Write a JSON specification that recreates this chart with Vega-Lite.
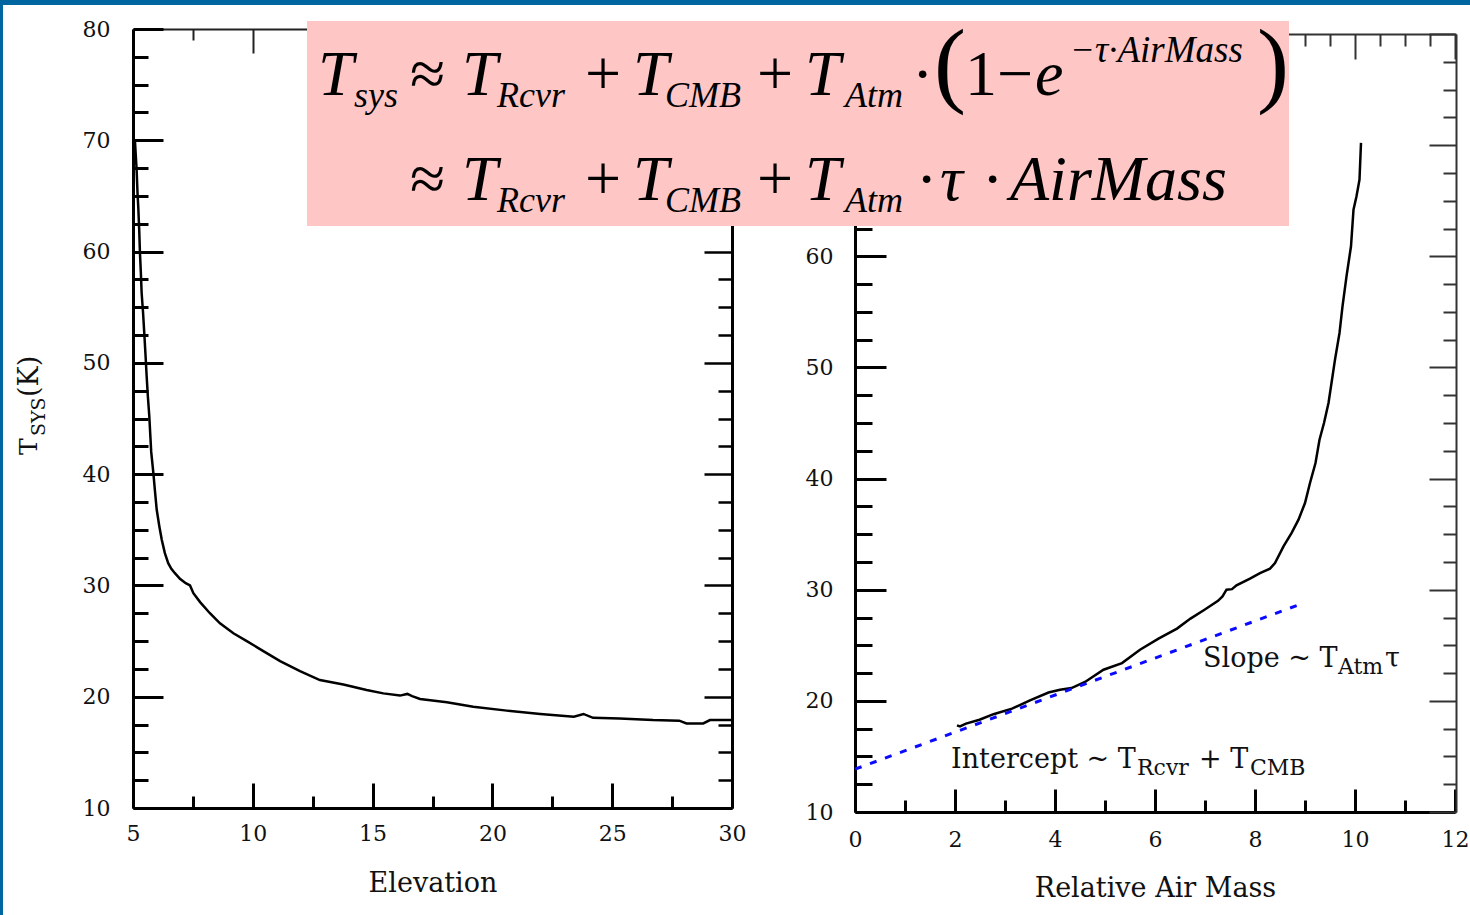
{
  "$schema": "https://vega.github.io/schema/vega-lite/v6.json",
  "width": 1470,
  "height": 915,
  "autosize": {"type": "none"},
  "padding": 0,
  "background": "white",
  "config": {
    "view": {"stroke": null},
    "axis": {"grid": false, "labelFont": "DejaVu Serif", "labelFontSize": 22, "labelColor": "#111", "titleFont": "DejaVu Serif", "titleFontSize": 27, "titleFontWeight": "normal", "titleColor": "#111", "domainColor": "#000", "tickColor": "#000", "labelFlush": false, "labelOverlap": false},
    "text": {"font": "Liberation Serif", "align": "left", "baseline": "alphabetic", "color": "#000"},
    "line": {"color": "#000", "strokeWidth": 2.5}
  },
  "datasets": {
    "elev": [{"elevation":5.08,"tsys":70.0},{"elevation":5.12,"tsys":68.5},{"elevation":5.15,"tsys":67.4},{"elevation":5.19,"tsys":65.2},{"elevation":5.22,"tsys":64.0},{"elevation":5.26,"tsys":61.9},{"elevation":5.29,"tsys":59.9},{"elevation":5.33,"tsys":58.0},{"elevation":5.36,"tsys":56.3},{"elevation":5.42,"tsys":54.5},{"elevation":5.47,"tsys":52.7},{"elevation":5.52,"tsys":50.8},{"elevation":5.57,"tsys":48.8},{"elevation":5.62,"tsys":47.0},{"elevation":5.68,"tsys":45.2},{"elevation":5.72,"tsys":43.6},{"elevation":5.76,"tsys":42.0},{"elevation":5.85,"tsys":40.1},{"elevation":5.92,"tsys":38.4},{"elevation":5.99,"tsys":36.8},{"elevation":6.1,"tsys":35.3},{"elevation":6.2,"tsys":34.1},{"elevation":6.33,"tsys":32.9},{"elevation":6.47,"tsys":32.0},{"elevation":6.6,"tsys":31.5},{"elevation":6.75,"tsys":31.1},{"elevation":6.96,"tsys":30.6},{"elevation":7.2,"tsys":30.2},{"elevation":7.38,"tsys":30.0},{"elevation":7.52,"tsys":29.3},{"elevation":7.8,"tsys":28.5},{"elevation":8.21,"tsys":27.5},{"elevation":8.63,"tsys":26.6},{"elevation":9.19,"tsys":25.7},{"elevation":9.75,"tsys":25.0},{"elevation":10.44,"tsys":24.1},{"elevation":11.14,"tsys":23.2},{"elevation":11.97,"tsys":22.3},{"elevation":12.8,"tsys":21.5},{"elevation":13.78,"tsys":21.1},{"elevation":14.75,"tsys":20.6},{"elevation":15.45,"tsys":20.3},{"elevation":16.14,"tsys":20.1},{"elevation":16.45,"tsys":20.25},{"elevation":16.65,"tsys":20.05},{"elevation":16.98,"tsys":19.8},{"elevation":18.1,"tsys":19.5},{"elevation":19.2,"tsys":19.1},{"elevation":20.6,"tsys":18.75},{"elevation":22.0,"tsys":18.45},{"elevation":23.4,"tsys":18.2},{"elevation":23.8,"tsys":18.45},{"elevation":24.2,"tsys":18.1},{"elevation":25.3,"tsys":18.05},{"elevation":26.7,"tsys":17.9},{"elevation":27.8,"tsys":17.85},{"elevation":28.1,"tsys":17.6},{"elevation":28.8,"tsys":17.6},{"elevation":29.08,"tsys":17.9},{"elevation":30.0,"tsys":17.9}],
    "airmass": [{"airmass":2.04,"tsys":17.8},{"airmass":2.1,"tsys":17.7},{"airmass":2.22,"tsys":17.95},{"airmass":2.49,"tsys":18.3},{"airmass":2.77,"tsys":18.8},{"airmass":3.14,"tsys":19.3},{"airmass":3.5,"tsys":20.05},{"airmass":3.87,"tsys":20.75},{"airmass":4.1,"tsys":21.0},{"airmass":4.33,"tsys":21.15},{"airmass":4.6,"tsys":21.7},{"airmass":4.97,"tsys":22.8},{"airmass":5.34,"tsys":23.4},{"airmass":5.7,"tsys":24.6},{"airmass":6.07,"tsys":25.6},{"airmass":6.44,"tsys":26.5},{"airmass":6.71,"tsys":27.4},{"airmass":6.99,"tsys":28.2},{"airmass":7.26,"tsys":29.0},{"airmass":7.35,"tsys":29.4},{"airmass":7.43,"tsys":30.0},{"airmass":7.54,"tsys":30.05},{"airmass":7.63,"tsys":30.4},{"airmass":7.9,"tsys":31.0},{"airmass":8.1,"tsys":31.5},{"airmass":8.3,"tsys":31.9},{"airmass":8.4,"tsys":32.4},{"airmass":8.57,"tsys":33.9},{"airmass":8.73,"tsys":35.1},{"airmass":8.87,"tsys":36.3},{"airmass":9.0,"tsys":37.8},{"airmass":9.1,"tsys":39.6},{"airmass":9.21,"tsys":41.4},{"airmass":9.29,"tsys":43.5},{"airmass":9.38,"tsys":45.0},{"airmass":9.47,"tsys":46.8},{"airmass":9.53,"tsys":48.6},{"airmass":9.6,"tsys":50.7},{"airmass":9.69,"tsys":53.1},{"airmass":9.75,"tsys":55.5},{"airmass":9.83,"tsys":58.2},{"airmass":9.92,"tsys":60.9},{"airmass":9.97,"tsys":64.2},{"airmass":10.03,"tsys":65.4},{"airmass":10.09,"tsys":66.9},{"airmass":10.12,"tsys":70.2}],
    "fit": [{"airmass":0,"tfit":13.85},{"airmass":8.85,"tfit":28.6}]
  },
  "resolve": {"scale": {"x": "independent", "y": "independent"}, "axis": {"x": "independent", "y": "independent"}},
  "layer": [
    {
      "resolve": {"axis": {"x": "independent", "y": "independent"}},
      "layer": [
        {
          "data": {"name": "elev"},
          "mark": {"type": "line"},
          "encoding": {
            "x": {"field": "elevation", "type": "quantitative", "scale": {"domain": [5, 30], "range": [133, 732], "nice": false, "zero": false},
              "axis": {"orient": "bottom", "offset": -107, "values": [5,7.5,10,12.5,15,17.5,20,22.5,25,27.5,30], "tickSize": {"condition": {"test": "datum.value % 5 === 0", "value": -25}, "value": -12}, "labelExpr": "datum.value % 5 === 0 ? datum.label : ''", "labelPadding": 40, "title": "Elevation", "titlePadding": 13, "domainWidth": 3, "tickWidth": 3}},
            "y": {"field": "tsys", "type": "quantitative", "scale": {"domain": [10, 80], "range": [808, 29], "nice": false, "zero": false},
              "axis": {"orient": "left", "offset": -133, "values": [10,12.5,15,17.5,20,22.5,25,27.5,30,32.5,35,37.5,40,42.5,45,47.5,50,52.5,55,57.5,60,62.5,65,67.5,70,72.5,75,77.5,80], "tickSize": {"condition": {"test": "datum.value % 10 === 0", "value": -30}, "value": -15}, "labelExpr": "datum.value % 10 === 0 ? datum.label : ''", "labelPadding": 53, "title": null, "domainWidth": 3, "tickWidth": 3}}
          }
        },
        {
          "data": {"name": "elev"},
          "mark": {"type": "line", "strokeOpacity": 0},
          "encoding": {
            "x": {"field": "elevation", "type": "quantitative",
              "axis": {"orient": "top", "offset": -29, "values": [5,7.5,10,12.5,15,17.5,20,22.5,25,27.5,30], "tickSize": {"condition": {"test": "datum.value % 5 === 0", "value": -24}, "value": -11}, "labels": false, "title": null, "domainWidth": 2, "tickWidth": 2, "domainColor": "#222", "tickColor": "#222"}},
            "y": {"field": "tsys", "type": "quantitative",
              "axis": {"orient": "right", "offset": -738, "values": [10,12.5,15,17.5,20,22.5,25,27.5,30,32.5,35,37.5,40,42.5,45,47.5,50,52.5,55,57.5,60,62.5,65,67.5,70,72.5,75,77.5,80], "tickSize": {"condition": {"test": "datum.value % 10 === 0", "value": -28}, "value": -14}, "labels": false, "title": null, "domainWidth": 3, "tickWidth": 2.5}}
          }
        },
        {"data": {"values": [{}]}, "mark": {"type": "text", "text": "T", "fontSize": 25, "angle": 270, "font": "DejaVu Serif", "color": "#111"}, "encoding": {"x": {"datum": 0.993, "type": "quantitative", "axis": null}, "y": {"datum": 41.72, "type": "quantitative", "axis": null}}},
        {"data": {"values": [{}]}, "mark": {"type": "text", "text": "SYS", "fontSize": 19, "angle": 270, "font": "DejaVu Serif", "color": "#111"}, "encoding": {"x": {"datum": 1.327, "type": "quantitative", "axis": null}, "y": {"datum": 43.43, "type": "quantitative", "axis": null}}},
        {"data": {"values": [{}]}, "mark": {"type": "text", "text": "(K)", "fontSize": 27, "angle": 270, "font": "DejaVu Serif", "color": "#111"}, "encoding": {"x": {"datum": 1.035, "type": "quantitative", "axis": null}, "y": {"datum": 46.93, "type": "quantitative", "axis": null}}},
        {"data": {"values": [{}]}, "mark": {"type": "rect", "color": "#0066a0"}, "encoding": {"x": {"datum": -0.634, "type": "quantitative", "axis": null}, "x2": {"datum": -0.426}, "y": {"datum": 82.79, "type": "quantitative", "axis": null}, "y2": {"datum": -1}}}
      ]
    },
    {
      "resolve": {"axis": {"x": "independent", "y": "independent"}},
      "layer": [
        {
          "data": {"name": "airmass"},
          "mark": {"type": "line"},
          "encoding": {
            "x": {"field": "airmass", "type": "quantitative", "scale": {"domain": [0, 12], "range": [855, 1455], "nice": false, "zero": false},
              "axis": {"orient": "bottom", "offset": -103, "format": "d", "values": [0,0.5,1,1.5,2,2.5,3,3.5,4,4.5,5,5.5,6,6.5,7,7.5,8,8.5,9,9.5,10,10.5,11,11.5,12], "tickSize": {"condition": {"test": "datum.value % 2 === 0", "value": -23}, "value": -12}, "labelExpr": "datum.value % 2 === 0 ? datum.label : ''", "labelPadding": 40, "title": "Relative Air Mass", "titlePadding": 14, "domainWidth": 3, "tickWidth": 3}},
            "y": {"field": "tsys", "type": "quantitative", "scale": {"domain": [10, 80], "range": [812, 34], "nice": false, "zero": false},
              "axis": {"orient": "left", "offset": -855, "values": [10,12.5,15,17.5,20,22.5,25,27.5,30,32.5,35,37.5,40,42.5,45,47.5,50,52.5,55,57.5,60,62.5,65,67.5,70,72.5,75,77.5,80], "tickSize": {"condition": {"test": "datum.value % 10 === 0", "value": -31}, "value": -17}, "labelExpr": "datum.value % 10 === 0 && datum.value < 65 ? datum.label : ''", "labelPadding": 53, "title": null, "domainWidth": 3, "tickWidth": 3}}
          }
        },
        {
          "data": {"name": "fit"},
          "mark": {"type": "line", "color": "#0a0aff", "strokeWidth": 3, "strokeDash": [7, 9], "strokeCap": "butt"},
          "encoding": {
            "x": {"field": "airmass", "type": "quantitative", "axis": null},
            "y": {"field": "tfit", "type": "quantitative", "axis": null}
          }
        },
        {
          "data": {"name": "airmass"},
          "mark": {"type": "line", "strokeOpacity": 0},
          "encoding": {
            "x": {"field": "airmass", "type": "quantitative",
              "axis": {"orient": "top", "offset": -34, "values": [0,0.5,1,1.5,2,2.5,3,3.5,4,4.5,5,5.5,6,6.5,7,7.5,8,8.5,9,9.5,10,10.5,11,11.5,12], "tickSize": {"condition": {"test": "datum.value % 2 === 0", "value": -25}, "value": -12}, "labels": false, "title": null, "domainWidth": 2, "tickWidth": 2, "domainColor": "#333", "tickColor": "#333"}},
            "y": {"field": "tsys", "type": "quantitative",
              "axis": {"orient": "right", "offset": -14, "values": [10,12.5,15,17.5,20,22.5,25,27.5,30,32.5,35,37.5,40,42.5,45,47.5,50,52.5,55,57.5,60,62.5,65,67.5,70,72.5,75,77.5,80], "tickSize": {"condition": {"test": "datum.value % 10 === 0", "value": -27}, "value": -13}, "labels": false, "title": null, "domainWidth": 2, "tickWidth": 2, "domainColor": "#333", "tickColor": "#333"}}
          }
        },
        {"data": {"values": [{}]}, "mark": {"type": "text", "text": "Slope ~ T", "fontSize": 27, "font": "DejaVu Serif", "color": "#111"}, "encoding": {"x": {"datum": 6.96, "type": "quantitative", "axis": null}, "y": {"datum": 23.04, "type": "quantitative", "axis": null}}},
        {"data": {"values": [{}]}, "mark": {"type": "text", "text": "Atm", "fontSize": 22, "font": "DejaVu Serif", "color": "#111"}, "encoding": {"x": {"datum": 9.66, "type": "quantitative", "axis": null}, "y": {"datum": 22.41, "type": "quantitative", "axis": null}}},
        {"data": {"values": [{}]}, "mark": {"type": "text", "text": "τ", "fontSize": 27, "font": "DejaVu Serif", "color": "#111"}, "encoding": {"x": {"datum": 10.6, "type": "quantitative", "axis": null}, "y": {"datum": 23.04, "type": "quantitative", "axis": null}}},
        {"data": {"values": [{}]}, "mark": {"type": "text", "text": "Intercept ~ T", "fontSize": 27, "font": "DejaVu Serif", "color": "#111"}, "encoding": {"x": {"datum": 1.92, "type": "quantitative", "axis": null}, "y": {"datum": 13.96, "type": "quantitative", "axis": null}}},
        {"data": {"values": [{}]}, "mark": {"type": "text", "text": "Rcvr", "fontSize": 22, "font": "DejaVu Serif", "color": "#111"}, "encoding": {"x": {"datum": 5.64, "type": "quantitative", "axis": null}, "y": {"datum": 13.33, "type": "quantitative", "axis": null}}},
        {"data": {"values": [{}]}, "mark": {"type": "text", "text": "+ T", "fontSize": 27, "font": "DejaVu Serif", "color": "#111"}, "encoding": {"x": {"datum": 6.88, "type": "quantitative", "axis": null}, "y": {"datum": 13.96, "type": "quantitative", "axis": null}}},
        {"data": {"values": [{}]}, "mark": {"type": "text", "text": "CMB", "fontSize": 22, "font": "DejaVu Serif", "color": "#111"}, "encoding": {"x": {"datum": 7.9, "type": "quantitative", "axis": null}, "y": {"datum": 13.33, "type": "quantitative", "axis": null}}},
        {"data": {"values": [{}]}, "mark": {"type": "rect", "color": "#ffc6c6"}, "encoding": {"x": {"datum": -10.96, "type": "quantitative", "axis": null}, "x2": {"datum": 8.68}, "y": {"datum": 81.17, "type": "quantitative", "axis": null}, "y2": {"datum": 62.72}}},
        {"data": {"values": [{}]}, "mark": {"type": "text", "text": "T", "fontSize": 64, "fontStyle": "italic"}, "encoding": {"x": {"datum": -10.74, "type": "quantitative", "axis": null}, "y": {"datum": 74.51, "type": "quantitative", "axis": null}}},
        {"data": {"values": [{}]}, "mark": {"type": "text", "text": "sys", "fontSize": 36, "fontStyle": "italic"}, "encoding": {"x": {"datum": -10.02, "type": "quantitative", "axis": null}, "y": {"datum": 73.43, "type": "quantitative", "axis": null}}},
        {"data": {"values": [{}]}, "mark": {"type": "text", "text": "≈", "fontSize": 64}, "encoding": {"x": {"datum": -8.9, "type": "quantitative", "axis": null}, "y": {"datum": 74.51, "type": "quantitative", "axis": null}}},
        {"data": {"values": [{}]}, "mark": {"type": "text", "text": "T", "fontSize": 64, "fontStyle": "italic"}, "encoding": {"x": {"datum": -7.86, "type": "quantitative", "axis": null}, "y": {"datum": 74.51, "type": "quantitative", "axis": null}}},
        {"data": {"values": [{}]}, "mark": {"type": "text", "text": "Rcvr", "fontSize": 36, "fontStyle": "italic"}, "encoding": {"x": {"datum": -7.16, "type": "quantitative", "axis": null}, "y": {"datum": 73.43, "type": "quantitative", "axis": null}}},
        {"data": {"values": [{}]}, "mark": {"type": "text", "text": "+", "fontSize": 64}, "encoding": {"x": {"datum": -5.4, "type": "quantitative", "axis": null}, "y": {"datum": 74.51, "type": "quantitative", "axis": null}}},
        {"data": {"values": [{}]}, "mark": {"type": "text", "text": "T", "fontSize": 64, "fontStyle": "italic"}, "encoding": {"x": {"datum": -4.44, "type": "quantitative", "axis": null}, "y": {"datum": 74.51, "type": "quantitative", "axis": null}}},
        {"data": {"values": [{}]}, "mark": {"type": "text", "text": "CMB", "fontSize": 36, "fontStyle": "italic"}, "encoding": {"x": {"datum": -3.8, "type": "quantitative", "axis": null}, "y": {"datum": 73.43, "type": "quantitative", "axis": null}}},
        {"data": {"values": [{}]}, "mark": {"type": "text", "text": "+", "fontSize": 64}, "encoding": {"x": {"datum": -1.96, "type": "quantitative", "axis": null}, "y": {"datum": 74.51, "type": "quantitative", "axis": null}}},
        {"data": {"values": [{}]}, "mark": {"type": "text", "text": "T", "fontSize": 64, "fontStyle": "italic"}, "encoding": {"x": {"datum": -1.0, "type": "quantitative", "axis": null}, "y": {"datum": 74.51, "type": "quantitative", "axis": null}}},
        {"data": {"values": [{}]}, "mark": {"type": "text", "text": "Atm", "fontSize": 36, "fontStyle": "italic"}, "encoding": {"x": {"datum": -0.2, "type": "quantitative", "axis": null}, "y": {"datum": 73.43, "type": "quantitative", "axis": null}}},
        {"data": {"values": [{}]}, "mark": {"type": "text", "text": "·", "fontSize": 64}, "encoding": {"x": {"datum": 1.14, "type": "quantitative", "axis": null}, "y": {"datum": 74.51, "type": "quantitative", "axis": null}}},
        {"data": {"values": [{}]}, "mark": {"type": "text", "text": "(", "fontSize": 96}, "encoding": {"x": {"datum": 1.58, "type": "quantitative", "axis": null}, "y": {"datum": 74.51, "type": "quantitative", "axis": null}}},
        {"data": {"values": [{}]}, "mark": {"type": "text", "text": "1−", "fontSize": 64}, "encoding": {"x": {"datum": 2.2, "type": "quantitative", "axis": null}, "y": {"datum": 74.51, "type": "quantitative", "axis": null}}},
        {"data": {"values": [{}]}, "mark": {"type": "text", "text": "e", "fontSize": 64, "fontStyle": "italic"}, "encoding": {"x": {"datum": 3.6, "type": "quantitative", "axis": null}, "y": {"datum": 74.51, "type": "quantitative", "axis": null}}},
        {"data": {"values": [{}]}, "mark": {"type": "text", "text": "−τ·AirMass", "fontSize": 37, "fontStyle": "italic"}, "encoding": {"x": {"datum": 4.3, "type": "quantitative", "axis": null}, "y": {"datum": 77.48, "type": "quantitative", "axis": null}}},
        {"data": {"values": [{}]}, "mark": {"type": "text", "text": ")", "fontSize": 96}, "encoding": {"x": {"datum": 8.04, "type": "quantitative", "axis": null}, "y": {"datum": 74.51, "type": "quantitative", "axis": null}}},
        {"data": {"values": [{}]}, "mark": {"type": "text", "text": "≈", "fontSize": 64}, "encoding": {"x": {"datum": -8.9, "type": "quantitative", "axis": null}, "y": {"datum": 65.06, "type": "quantitative", "axis": null}}},
        {"data": {"values": [{}]}, "mark": {"type": "text", "text": "T", "fontSize": 64, "fontStyle": "italic"}, "encoding": {"x": {"datum": -7.86, "type": "quantitative", "axis": null}, "y": {"datum": 65.06, "type": "quantitative", "axis": null}}},
        {"data": {"values": [{}]}, "mark": {"type": "text", "text": "Rcvr", "fontSize": 36, "fontStyle": "italic"}, "encoding": {"x": {"datum": -7.16, "type": "quantitative", "axis": null}, "y": {"datum": 63.98, "type": "quantitative", "axis": null}}},
        {"data": {"values": [{}]}, "mark": {"type": "text", "text": "+", "fontSize": 64}, "encoding": {"x": {"datum": -5.4, "type": "quantitative", "axis": null}, "y": {"datum": 65.06, "type": "quantitative", "axis": null}}},
        {"data": {"values": [{}]}, "mark": {"type": "text", "text": "T", "fontSize": 64, "fontStyle": "italic"}, "encoding": {"x": {"datum": -4.44, "type": "quantitative", "axis": null}, "y": {"datum": 65.06, "type": "quantitative", "axis": null}}},
        {"data": {"values": [{}]}, "mark": {"type": "text", "text": "CMB", "fontSize": 36, "fontStyle": "italic"}, "encoding": {"x": {"datum": -3.8, "type": "quantitative", "axis": null}, "y": {"datum": 63.98, "type": "quantitative", "axis": null}}},
        {"data": {"values": [{}]}, "mark": {"type": "text", "text": "+", "fontSize": 64}, "encoding": {"x": {"datum": -1.96, "type": "quantitative", "axis": null}, "y": {"datum": 65.06, "type": "quantitative", "axis": null}}},
        {"data": {"values": [{}]}, "mark": {"type": "text", "text": "T", "fontSize": 64, "fontStyle": "italic"}, "encoding": {"x": {"datum": -1.0, "type": "quantitative", "axis": null}, "y": {"datum": 65.06, "type": "quantitative", "axis": null}}},
        {"data": {"values": [{}]}, "mark": {"type": "text", "text": "Atm", "fontSize": 36, "fontStyle": "italic"}, "encoding": {"x": {"datum": -0.2, "type": "quantitative", "axis": null}, "y": {"datum": 63.98, "type": "quantitative", "axis": null}}},
        {"data": {"values": [{}]}, "mark": {"type": "text", "text": "·", "fontSize": 64}, "encoding": {"x": {"datum": 1.22, "type": "quantitative", "axis": null}, "y": {"datum": 65.06, "type": "quantitative", "axis": null}}},
        {"data": {"values": [{}]}, "mark": {"type": "text", "text": "τ", "fontSize": 64, "fontStyle": "italic"}, "encoding": {"x": {"datum": 1.7, "type": "quantitative", "axis": null}, "y": {"datum": 65.06, "type": "quantitative", "axis": null}}},
        {"data": {"values": [{}]}, "mark": {"type": "text", "text": "·", "fontSize": 64}, "encoding": {"x": {"datum": 2.54, "type": "quantitative", "axis": null}, "y": {"datum": 65.06, "type": "quantitative", "axis": null}}},
        {"data": {"values": [{}]}, "mark": {"type": "text", "text": "AirMass", "fontSize": 64, "fontStyle": "italic"}, "encoding": {"x": {"datum": 3.1, "type": "quantitative", "axis": null}, "y": {"datum": 65.06, "type": "quantitative", "axis": null}}},
        {"data": {"values": [{}]}, "mark": {"type": "rect", "color": "#0066a0"}, "encoding": {"x": {"datum": -18, "type": "quantitative", "axis": null}, "x2": {"datum": 13}, "y": {"datum": 83.24, "type": "quantitative", "axis": null}, "y2": {"datum": 82.61}}}
      ]
    }
  ]
}
